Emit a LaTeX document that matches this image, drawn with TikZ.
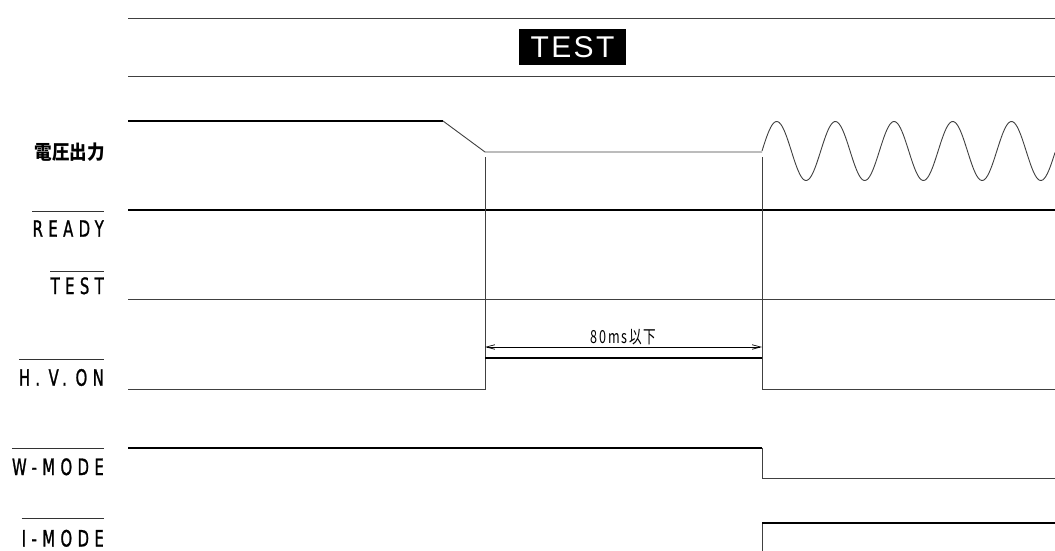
\documentclass[tikz,border=0pt]{standalone}
\usepackage{fontspec}
\setmainfont{Liberation Sans}
\newfontfamily\lblfont[FakeStretch=0.66,FakeBold=1,LetterSpace=24]{DejaVu Sans}
\newfontfamily\titlefont[LetterSpace=8]{Liberation Sans}
\newfontfamily\jpfont[FakeStretch=0.9]{Noto Sans CJK JP}
\newfontfamily\dimfont[FakeStretch=0.7,LetterSpace=10]{Noto Sans CJK JP}
\usetikzlibrary{arrows.meta,positioning}

\begin{document}
\begin{tikzpicture}[x=1pt,y=-1pt,
    sig/.style={line width=1.6pt,black},
    thin/.style={line width=0.9pt,black!75},
    bar/.style={line width=0.9pt,black!80},
    lbl/.style={anchor=base east,inner sep=0pt,font=\lblfont\fontsize{22.5}{23}\selectfont},
    dim/.style={{Straight Barb[length=3mm,width=1.6mm]}-{Straight Barb[length=3mm,width=1.6mm]},line width=0.7pt}
  ]
    \useasboundingbox (0,0) rectangle (1055,551);
    % header
    \draw[thin] (128,18) -- (1055,18);
    \draw[thin] (128,76) -- (1055,76);
    \node[fill=black,text=white,minimum width=107pt,minimum height=36pt,inner sep=0pt,
          font=\titlefont\fontsize{30}{30}\selectfont] (title) at (572.5,47) {TEST};
    % signal names
    \node[anchor=east,inner sep=0pt,font=\jpfont\bfseries\fontsize{19.5}{19.5}\selectfont] (volt) at (105,152) {電圧出力};
    \node[lbl] (ready) at (104,236.7) {READY};
    \node[lbl] (test) at (104,294) {TEST};
    \node[lbl] (hvon) at (104,385.7) {H.\kern-1.5pt{} V.\kern-1.5pt{} ON};
    \node[lbl] (wmode) at (104,475) {W-MODE};
    \node[lbl] (imode) at (104,546.5) {I-MODE};
    \draw[bar] ([yshift=9pt]ready.north west) -- ([yshift=9pt]ready.north east);
    \draw[bar] ([yshift=6pt]test.north west) -- ([yshift=6pt]test.north east);
    \draw[bar] ([yshift=9pt]hvon.north west) -- ([yshift=9pt]hvon.north east);
    \draw[bar] ([yshift=10pt]wmode.north west) -- ([yshift=10pt]wmode.north east);
    \draw[bar] ([yshift=11pt]imode.north west) -- ([yshift=11pt]imode.north east);
    % output voltage
    \draw[sig] (128,121) -- (443,121);
    \draw[thin] (443,121) -- (485,152) -- (762,152);
    \draw[thin] plot[domain=762:1055,samples=240] (\x,{151-29.5*sin((\x-762)*6.1329)});
    % READY and TEST
    \draw[sig] (128,210) -- (1055,210);
    \draw[thin] (128,299) -- (1055,299);
    % edges
    \draw[thin] (485,157) -- (485,358);
    \draw[thin] (762,157) -- (762,358);
    \draw[dim] (485,347) -- (762,347) node[midway,above=2pt,inner sep=0pt,font=\dimfont\fontsize{18}{18}\selectfont] (dt) {80ms以下};
    % H.V.ON
    \draw[thin] (128,389) -- (485,389) -- (485,358);
    \draw[sig] (485,358) -- (762,358);
    \draw[thin] (762,358) -- (762,389) -- (1055,389);
    % W-MODE
    \draw[sig] (128,448) -- (762,448);
    \draw[thin] (762,448) -- (762,478) -- (1055,478);
    % I-MODE
    \draw[thin] (762,551) -- (762,523);
    \draw[sig] (762,523) -- (1055,523);
\end{tikzpicture}
\end{document}
